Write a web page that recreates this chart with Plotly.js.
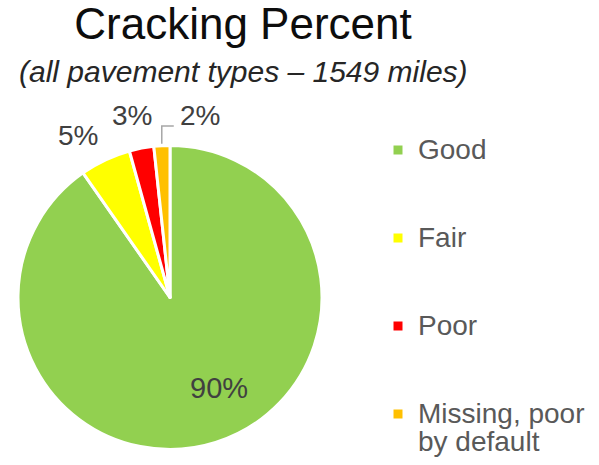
<!DOCTYPE html>
<html>
<head>
<meta charset="utf-8">
<script src="https://cdn.plot.ly/plotly-3.0.1.min.js"></script>
<style>
  html, body { margin: 0; padding: 0; background: #fff; }
  #chart { width: 599px; height: 465px; }
</style>
</head>
<body>
<div id="chart"></div>
<script>
// Cracking condition shares (percent of 1549 miles)
const categories = ['Good', 'Fair', 'Poor', 'Missing, poor<br>by default'];
const shares = [90.3, 5.4, 2.6, 1.7];
const sliceColors = ['#92D050', '#FFFF00', '#FF0000', '#FFC000'];

const chartTitle = 'Cracking Percent';
const chartSubtitle = '(all pavement types \u2013 1549 miles)';

const W = 599, H = 465;
// pie geometry in pixels (centre and radius)
const CX = 170, CY = 297.5, R = 152;

// percent labels: small turn (deg) and distance (x radius) from slice middle
const labelTurn = [-10.9, -4.3, -1.0, 0];
const labelDist = [0.677, 1.228, 1.226, 1.0];
const leaderIdx = 3; // this one gets an elbow leader line

const px = x => x / W;
const py = y => 1 - y / H;

// legend rows are padded with blank lines so the items sit far apart
function legendLabel(cat) {
    const lines = cat.split('<br>').map(l => '<span style="font-size:28px">' + l + '</span>');
    const out = [' '].concat(lines);
    if (out.length < 3) out.push(' ');
    return out.join('<br>');
}

const total = shares.reduce((a, b) => a + b, 0);
const annotations = [];
const shapes = [];
let cum = 0;
shares.forEach(function(v, i) {
    const mid = (cum + v / 2) / total * 360;
    cum += v;
    const txt = Math.round(v / total * 100) + '%';
    const a = (mid + labelTurn[i]) * Math.PI / 180;
    if (i === leaderIdx) {
        // elbow: straight up from the rim, then right to the label
        const x0 = CX + (R + 2) * Math.sin(a);
        const y0 = CY - (R + 2) * Math.cos(a);
        const yTop = CY - R * 1.128;
        const x2 = x0 + 12;
        shapes.push({
            type: 'path', xref: 'paper', yref: 'paper',
            path: 'M' + px(x0) + ',' + py(y0) + ' L' + px(x0) + ',' + py(yTop) + ' L' + px(x2) + ',' + py(yTop),
            line: { color: '#a6a6a6', width: 1.5 }
        });
        annotations.push({
            text: txt, xref: 'paper', yref: 'paper',
            x: px(x2 + 4), y: py(yTop - 10.5),
            xanchor: 'left', yanchor: 'middle', showarrow: false,
            font: { size: 28, color: '#404040' }
        });
    } else {
        const d = R * labelDist[i];
        annotations.push({
            text: txt, xref: 'paper', yref: 'paper',
            x: px(CX + d * Math.sin(a)), y: py(CY - d * Math.cos(a)),
            xanchor: 'center', yanchor: 'middle', showarrow: false,
            font: { size: i === 0 ? 29 : 28, color: '#404040' }
        });
    }
});

annotations.push({
    text: '<i>' + chartSubtitle + '</i>',
    xref: 'paper', yref: 'paper',
    x: px(243), y: py(72),
    xanchor: 'center', yanchor: 'middle',
    showarrow: false,
    font: { size: 30, color: '#262626' }
});

const trace = {
    type: 'pie',
    labels: categories.map(legendLabel),
    values: shares,
    sort: false,
    direction: 'clockwise',
    rotation: 0,
    marker: { colors: sliceColors, line: { color: '#ffffff', width: 3 } },
    textinfo: 'none',
    textposition: 'none',
    hoverinfo: 'label+percent',
    domain: { x: [px(CX - R), px(CX + R)], y: [py(CY + R), py(CY - R)] }
};

const layout = {
    width: W,
    height: H,
    margin: { l: 0, r: 0, t: 0, b: 0 },
    paper_bgcolor: '#ffffff',
    font: { family: '"Liberation Sans", Arial, sans-serif', color: '#404040' },
    title: {
        text: chartTitle,
        font: { size: 44, color: '#0d0d0d' },
        x: px(243),
        xanchor: 'center',
        y: py(24),
        yanchor: 'middle'
    },
    annotations: annotations,
    shapes: shapes,
    showlegend: true,
    legend: {
        x: px(378),
        xanchor: 'left',
        y: py(101),
        yanchor: 'top',
        bgcolor: 'rgba(0,0,0,0)',
        font: { size: 21.8, color: '#595959' }
    }
};

Plotly.newPlot('chart', [trace], layout, { displayModeBar: false, staticPlot: true });
</script>
</body>
</html>
